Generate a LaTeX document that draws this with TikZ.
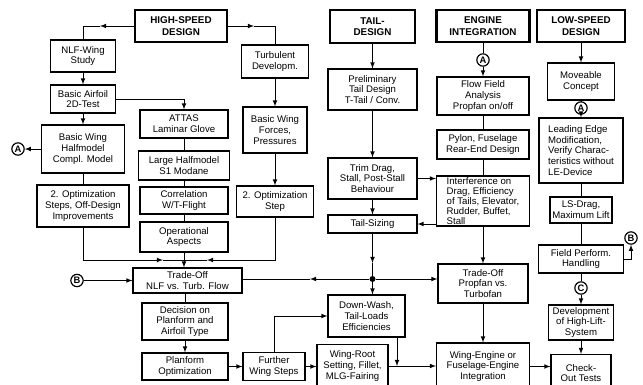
\documentclass[tikz,border=0pt]{standalone}
\usepackage{fontspec}
\setmainfont{Liberation Sans}
\usetikzlibrary{arrows}

\begin{document}
\begin{tikzpicture}[x=0.03cm, y=-0.03cm, >=latex]
        \tikzstyle{box} = [rectangle, draw=black, line width=0.95pt, align=center, inner sep=1pt, font=\fontsize{8.2}{9.2}\selectfont]
        \tikzstyle{head} = [box, line width=2pt, font=\bfseries\fontsize{8.4}{9.6}\selectfont]
        \tikzstyle{conn} = [circle, draw=black, line width=1pt, inner sep=0pt, minimum size=0.37cm, font=\bfseries\fontsize{8}{9}\selectfont]
        \tikzstyle{line} = [line width=0.8pt]
        \tikzstyle{arrow} = [line, ->]
        \tikzset{wh/.style 2 args={minimum width=#1*0.03cm, minimum height=#2*0.03cm}}

        \useasboundingbox (0,0) rectangle (643,384);

        % column heads
        \node (hs) [head, wh={92}{32}] at (181,26) {HIGH-SPEED\\DESIGN};
        \node (td) [head, wh={85}{33}] at (372.5,26.5) {TAIL-\\DESIGN};
        \node (ei) [head, wh={93}{32}] at (483,26) {ENGINE\\INTEGRATION};
        \node (lsd) [head, wh={88}{32}] at (581,26) {LOW-SPEED\\DESIGN};

        % high-speed design
        \node (nlf) [box, wh={65}{32}] at (83,56) {NLF-Wing\\Study};
        \node (airfoil) [box, wh={65}{28}] at (83,99) {Basic Airfoil\\2D-Test};
        \node (bwhm) [box, wh={83}{48}] at (83,149) {Basic Wing\\Halfmodel\\Compl. Model};
        \node (a1) [conn] at (18,149) {A};
        \node (opt2s) [box, wh={92}{42}] at (83,206) {2. Optimization\\Steps, Off-Design\\Improvements};
        \node (attas) [box, wh={88}{28}] at (184,124) {ATTAS\\Laminar Glove};
        \node (large) [box, wh={91}{29}] at (184,165.5) {Large Halfmodel\\S1 Modane};
        \node (corr) [box, wh={88}{27}] at (184,200.5) {Correlation\\W/T-Flight};
        \node (oper) [box, wh={88}{30}] at (184,237) {Operational\\Aspects};
        \node (turb) [box, wh={67}{33}] at (275,61.5) {Turbulent\\Developm.};
        \node (bwfp) [box, wh={64}{46}] at (275,130) {Basic Wing\\Forces,\\Pressures};
        \node (opt2) [box, wh={77}{31}] at (275,201.5) {2. Optimization\\Step};
        \node (tonlf) [box, wh={109}{25}] at (187.5,280.5) {Trade-Off\\NLF vs. Turb. Flow};
        \node (b1) [conn] at (77,280.5) {B};
        \node (decis) [box, wh={86}{37}] at (185,321.5) {Decision on\\Planform and\\Airfoil Type};
        \node (planf) [box, wh={86}{27}] at (185,366.5) {Planform\\Optimization};
        \node (further) [box, wh={62}{28}] at (274,366.5) {Further\\Wing Steps};

        % tail design
        \node (prelim) [box, wh={89}{41}] at (372.5,89.5) {Preliminary\\Tail Design\\T-Tail / Conv.};
        \node (trim) [box, wh={89}{41}] at (372.5,178.5) {Trim Drag,\\Stall, Post-Stall\\Behaviour};
        \node (tailsz) [box, wh={89}{18}] at (372.5,224) {Tail-Sizing};
        \node (jn) [circle, fill=black, inner sep=0pt, minimum size=0.18cm] at (372.5,279) {};
        \node (downw) [box, wh={77}{42}] at (366.5,316) {Down-Wash,\\Tail-Loads\\Efficiencies};
        \node (wroot) [box, wh={71}{43}] at (352.5,366) {Wing-Root\\Setting, Fillet,\\MLG-Fairing};

        % engine integration
        \node (a2) [conn] at (483,60) {A};
        \node (flow) [box, wh={92}{38}] at (483,96) {Flow Field\\Analysis\\Propfan on/off};
        \node (pylon) [box, wh={92}{29}] at (483,144.5) {Pylon, Fuselage\\Rear-End Design};
        \node (interf) [box, wh={93}{50}, align=left, font=\fontsize{8.2}{8.5}\selectfont] at (483,201) {Interference on\\Drag, Efficiency\\of Tails, Elevator,\\Rudder, Buffet,\\Stall};
        \node (propfan) [box, wh={90}{39}] at (483,283.5) {Trade-Off\\Propfan vs.\\Turbofan};
        \node (wingeng) [box, wh={93}{47}] at (483,366.5) {Wing-Engine or\\Fuselage-Engine\\Integration};

        % low-speed design
        \node (moveable) [box, wh={67}{37}] at (581,81.5) {Moveable\\Concept};
        \node (a3) [conn] at (581,108) {A};
        \node (leading) [box, wh={84}{65}, align=left] at (581,150.5) {Leading Edge\\Modification,\\Verify Charac-\\teristics without\\LE-Device};
        \node (lsdrag) [box, wh={62}{26}] at (581,210) {LS-Drag,\\Maximum Lift};
        \node (field) [box, wh={85}{28}] at (581,259) {Field Perform.\\Handling};
        \node (b2) [conn] at (631,238) {B};
        \node (c) [conn] at (581,288) {C};
        \node (devel) [box, wh={65}{35}] at (581,322.5) {Development\\of High-Lift-\\System};
        \node (check) [box, wh={60}{37}] at (581,373) {Check-\\Out Tests};

        % points where arrows sit on the lines
        \coordinate (hsl) at (100,26);
        \coordinate (hsr) at (254,26);
        \coordinate (mg) at (184,260);
        \coordinate (mgl) at (163,260);
        \coordinate (mgr) at (207,260);
        \coordinate (tsd) at (372.5,263);
        \coordinate (jnl) at (310,279);
        \coordinate (dw) at (397,366);

        \draw [arrow] (hs.west) -- (hsl);
        \draw [line] (hsl) -| (nlf.north);
        \draw [arrow] (hs.east) -- (hsr);
        \draw [line] (hsr) -| (turb.north);
        \draw [arrow] (nlf) -- (airfoil);
        \draw [arrow] (airfoil.east) -| (attas.north);
        \draw [arrow] (airfoil) -- (bwhm);
        \draw [arrow] (bwhm) -- (a1);
        \draw [line] (bwhm) -- (opt2s);
        \draw [line] (attas) -- (large);
        \draw [line] (large) -- (corr);
        \draw [line] (corr) -- (oper);
        \draw [arrow] (turb) -- (bwfp);
        \draw [arrow] (bwfp) -- (opt2);
        \draw [arrow] (opt2s.south) |- (mgl);
        \draw [line] (mgl) -- (mg);
        \draw [arrow] (opt2.south) |- (mgr);
        \draw [line] (mgr) -- (mg);
        \draw [arrow] (oper.south) -- (oper.south |- tonlf.north);
        \draw [arrow] (b1) -- (tonlf);
        \draw [line] (tonlf.south -| decis) -- (decis);
        \draw [arrow] (decis) -- (planf);
        \draw [arrow] (planf) -- (further);
        \draw [arrow] (further.north) |- (downw.west);
        \draw [arrow] (further) -- (further -| wroot.west);

        \draw [arrow] (td) -- (prelim);
        \draw [arrow] (prelim) -- (trim);
        \draw [arrow] (trim) -- (tailsz);
        \draw [arrow] (tailsz) -- (tsd);
        \draw [line] (tsd) -- (jn);
        \draw [arrow] (jn) -- (jn |- downw.north);
        \draw [arrow] (jn) -- (jnl);
        \draw [line] (jnl) -- (tonlf.east |- jn);
        \draw [arrow] (jn) -- (jn -| propfan.west);
        \draw [arrow] (downw.south -| dw) -- (dw);
        \draw [arrow] (wroot.east) -- (wroot.east -| wingeng.west);

        \draw [line] (ei) -- (a2);
        \draw [arrow] (a2) -- (flow);
        \draw [line] (flow) -- (pylon);
        \draw [line] (pylon) -- (interf);
        \draw [arrow] (trim.east) -- (trim.east -| interf.west);
        \draw [arrow] (interf.west |- tailsz) -- (tailsz.east);
        \draw [arrow] (interf) -- (propfan);
        \draw [arrow] (propfan) -- (wingeng);
        \draw [arrow] (wingeng.east) -- (wingeng.east -| check.west);

        \draw [arrow] (lsd) -- (moveable);
        \draw [line] (moveable) -- (a3);
        \draw [arrow] (a3) -- (leading);
        \draw [line] (leading) -- (lsdrag);
        \draw [line] (lsdrag) -- (field);
        \draw [arrow] (field.east) -| (b2.south);
        \draw [line] (field) -- (c);
        \draw [arrow] (c) -- (devel);
        \draw [arrow] (devel) -- (check);
    \end{tikzpicture}
\end{document}
